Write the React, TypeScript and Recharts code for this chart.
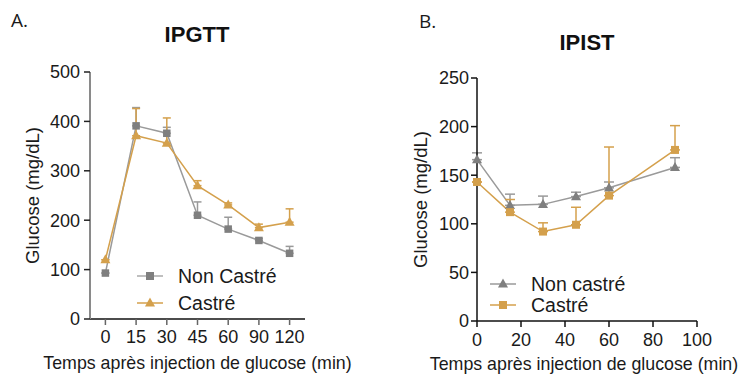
import React from 'react';
import { LineChart, Line, XAxis, YAxis, ErrorBar } from 'recharts';

// IPGTT (panel A)
const gttTimes = ['0', '15', '30', '45', '60', '90', '120'];
const gttNonCastre = [93, 391, 376, 210, 182, 159, 133];
const gttNonCastreErr = [0, 37, 12, 27, 24, 4, 14];
const gttCastre = [120, 371, 356, 270, 231, 185, 196];
const gttCastreErr = [0, 55, 51, 10, 4, 7, 27];

// IPIST (panel B)
const istTimes = [0, 15, 30, 45, 60, 90];
const istNonCastre = [166, 119, 120, 128, 137, 158];
const istNonCastreErr = [7, 11.5, 8.5, 4.5, 6, 10];
const istCastre = [143, 112, 92, 99, 129, 176];
const istCastreErr = [0, 13, 9, 18, 50, 25];

const GRAY = '#7f7f7f';
const GRAY_LINE = '#9a9a9a';
const ORANGE = '#d4a04c';
const FONT = '"Liberation Sans", Arial, sans-serif';

const gttData = gttTimes.map((t, i) => ({
  t,
  nc: gttNonCastre[i],
  ncErr: [0, gttNonCastreErr[i]],
  c: gttCastre[i],
  cErr: [0, gttCastreErr[i]],
}));

const istData = istTimes.map((t, i) => ({
  t,
  nc: istNonCastre[i],
  ncErr: [0, istNonCastreErr[i]],
  c: istCastre[i],
  cErr: [0, istCastreErr[i]],
}));

const square = (size: number, color: string) => (props: any) => {
  const { cx, cy, index } = props;
  if (cx == null || cy == null) return <g key={index} />;
  return <rect key={index} x={cx - size / 2} y={cy - size / 2} width={size} height={size} fill={color} />;
};

const triangle = (size: number, color: string) => (props: any) => {
  const { cx, cy, index } = props;
  if (cx == null || cy == null) return <g key={index} />;
  const h = size * 0.9;
  return (
    <path
      key={index}
      d={`M${cx},${cy - h * 0.6} L${cx + size / 2},${cy + h * 0.4} L${cx - size / 2},${cy + h * 0.4} Z`}
      fill={color}
    />
  );
};

type LegendItem = { label: string; color: string; lineColor: string; marker: 'square' | 'triangle'; y: number };

// legend drawn as a small overlay so it doesn't eat into the plot area
const ChartLegend = ({ items, left, top }: { items: LegendItem[]; left: number; top: number }) => (
  <svg width={200} height={60} style={{ position: 'absolute', left, top, overflow: 'visible' }}>
    {items.map((it) => (
      <g key={it.label}>
        <line x1={0} x2={26} y1={it.y} y2={it.y} stroke={it.lineColor} strokeWidth={1.5} />
        {it.marker === 'square' ? (
          <rect x={13 - 4} y={it.y - 4} width={8} height={8} fill={it.color} />
        ) : (
          <path d={`M13,${it.y - 5.5} L18,${it.y + 3.5} L8,${it.y + 3.5} Z`} fill={it.color} />
        )}
        <text x={41} y={it.y} dy="0.36em" fontSize={19.5} fontFamily={FONT} fill="#1a1a1a">
          {it.label}
        </text>
      </g>
    ))}
  </svg>
);

const tickStyle = { fontSize: 18, fontFamily: FONT, fill: '#1a1a1a' };
const yLabelStyle = { fontSize: 18.5, fontFamily: FONT, fill: '#1a1a1a' };
const xLabelStyle = { fontSize: 17.8, fontFamily: FONT, fill: '#1a1a1a' };

const IPGTTChart = () => (
  <LineChart width={372} height={374} data={gttData} margin={{ top: 72, right: 67, bottom: 0, left: 30 }}>
    <XAxis
      dataKey="t"
      height={55}
      padding={{ left: 15.4, right: 15.4 }}
      axisLine={{ stroke: '#111', strokeWidth: 1.5 }}
      tickLine={{ stroke: '#666', strokeWidth: 1.5 }}
      tickSize={6}
      tickMargin={5}
      tick={tickStyle}
      label={{ value: 'Temps après injection de glucose (min)', position: 'center', dy: 16, style: xLabelStyle }}
    />
    <YAxis
      width={60}
      domain={[0, 500]}
      ticks={[0, 100, 200, 300, 400, 500]}
      axisLine={{ stroke: '#8a8a8a', strokeWidth: 2 }}
      tickLine={{ stroke: '#222', strokeWidth: 1.5 }}
      tickSize={6}
      tickMargin={4}
      tick={tickStyle}
      label={{ value: 'Glucose (mg/dL)', angle: -90, position: 'center', dx: -28, style: yLabelStyle }}
    />
    <Line
      dataKey="nc"
      stroke={GRAY_LINE}
      strokeWidth={1.5}
      dot={square(7.5, GRAY)}
      activeDot={false}
      isAnimationActive={false}
    >
      <ErrorBar dataKey="ncErr" stroke={GRAY_LINE} strokeWidth={1.5} width={4} />
    </Line>
    <Line
      dataKey="c"
      stroke={ORANGE}
      strokeWidth={1.5}
      dot={triangle(10, ORANGE)}
      activeDot={false}
      isAnimationActive={false}
    >
      <ErrorBar dataKey="cErr" stroke={ORANGE} strokeWidth={1.5} width={4} />
    </Line>
  </LineChart>
);

const IPISTChart = () => (
  <LineChart width={372} height={374} data={istData} margin={{ top: 78, right: 47, bottom: 0, left: 45 }}>
    <XAxis
      dataKey="t"
      type="number"
      domain={[0, 100]}
      ticks={[0, 20, 40, 60, 80, 100]}
      height={53}
      axisLine={{ stroke: '#111', strokeWidth: 1.5 }}
      tickLine={{ stroke: '#111', strokeWidth: 1.5 }}
      tickSize={6}
      tickMargin={6}
      tick={tickStyle}
      label={{ value: 'Temps après injection de glucose (min)', position: 'center', dx: -3, dy: 16, style: xLabelStyle }}
    />
    <YAxis
      width={60}
      domain={[0, 250]}
      ticks={[0, 50, 100, 150, 200, 250]}
      axisLine={{ stroke: '#111', strokeWidth: 1.5 }}
      tickLine={{ stroke: '#111', strokeWidth: 1.5 }}
      tickSize={6}
      tickMargin={2}
      tick={tickStyle}
      label={{ value: 'Glucose (mg/dL)', angle: -90, position: 'center', dx: -27, style: yLabelStyle }}
    />
    <Line
      dataKey="nc"
      stroke={GRAY_LINE}
      strokeWidth={1.5}
      dot={triangle(10, GRAY)}
      activeDot={false}
      isAnimationActive={false}
    >
      <ErrorBar dataKey="ncErr" stroke={GRAY_LINE} strokeWidth={1.5} width={5} />
    </Line>
    <Line
      dataKey="c"
      stroke={ORANGE}
      strokeWidth={1.5}
      dot={square(8, ORANGE)}
      activeDot={false}
      isAnimationActive={false}
    >
      <ErrorBar dataKey="cErr" stroke={ORANGE} strokeWidth={1.5} width={5} />
    </Line>
  </LineChart>
);

const panelLetter: React.CSSProperties = {
  position: 'absolute',
  fontFamily: '"Open Sans", "Noto Sans", sans-serif',
  fontSize: 19,
  color: '#1a1a1a',
  lineHeight: 1,
};

const titleStyle: React.CSSProperties = {
  position: 'absolute',
  fontFamily: FONT,
  fontWeight: 'bold',
  fontSize: 22,
  color: '#111',
  lineHeight: 1,
  transform: 'translateX(-50%)',
};

export default function App() {
  return (
    <div style={{ position: 'absolute', left: 0, top: 0, width: 744, height: 374, background: '#fff', overflow: 'hidden' }}>
      <div style={{ position: 'absolute', left: 0, top: 0 }}>
        <IPGTTChart />
      </div>
      <div style={{ position: 'absolute', left: 372, top: 0 }}>
        <IPISTChart />
      </div>
      <ChartLegend
        left={137}
        top={266}
        items={[
          { label: 'Non Castré', color: GRAY, lineColor: '#aaaaaa', marker: 'square', y: 10 },
          { label: 'Castré', color: ORANGE, lineColor: ORANGE, marker: 'triangle', y: 37 },
        ]}
      />
      <ChartLegend
        left={490}
        top={274}
        items={[
          { label: 'Non castré', color: GRAY, lineColor: GRAY_LINE, marker: 'triangle', y: 10 },
          { label: 'Castré', color: ORANGE, lineColor: ORANGE, marker: 'square', y: 31 },
        ]}
      />
      <div style={{ ...panelLetter, left: 11, top: 11 }}>A.</div>
      <div style={{ ...panelLetter, left: 419, top: 12 }}>B.</div>
      <div style={{ ...titleStyle, left: 197, top: 24 }}>IPGTT</div>
      <div style={{ ...titleStyle, left: 587, top: 32 }}>IPIST</div>
    </div>
  );
}
